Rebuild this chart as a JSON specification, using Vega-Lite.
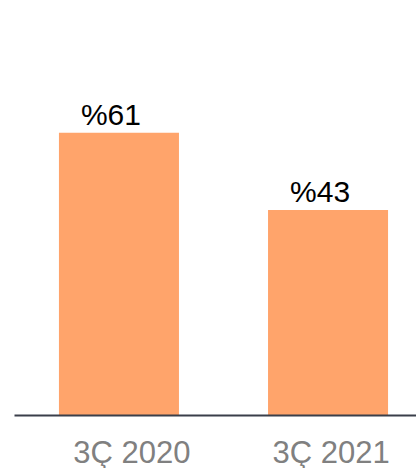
{
  "$schema": "https://vega.github.io/schema/vega-lite/v6.json",
  "width": 419,
  "height": 415,
  "autosize": "none",
  "padding": {"left": 14, "top": 0, "right": 0, "bottom": 53},
  "background": "white",
  "config": {"view": {"stroke": null}, "font": "Liberation Sans"},
  "data": {"values": [
    {"period": "3Ç 2020", "value": 61, "label": "%61"},
    {"period": "3Ç 2021", "value": 43, "label": "%43"}
  ]},
  "encoding": {
    "x": {
      "field": "period", "type": "nominal", "sort": null,
      "scale": {"paddingInner": 0.426, "paddingOuter": 0.215},
      "axis": {
        "title": null, "labelAngle": 0, "ticks": false,
        "domainColor": "#3a3f4a", "domainWidth": 2, "domainOpacity": 1,
        "labelFontSize": 31, "labelColor": "#808080", "labelPadding": 23,
        "labelFont": "Liberation Sans", "zindex": 1,
        "labelOffset": {"condition": {"test": "datum.value === '3Ç 2020'", "value": 13}, "value": 3}
      }
    },
    "y": {
      "field": "value", "type": "quantitative",
      "scale": {"domain": [-4.74, 91.9], "zero": false, "nice": false},
      "axis": null
    }
  },
  "layer": [
    {"mark": {"type": "bar", "color": "#FFA46B"}, "encoding": {"y2": {"datum": -4.74}}},
    {"mark": {"type": "text", "baseline": "alphabetic", "dy": -8, "dx": -8, "fontSize": 30, "color": "#000000", "font": "Liberation Sans"},
     "encoding": {"text": {"field": "label"}}}
  ]
}
